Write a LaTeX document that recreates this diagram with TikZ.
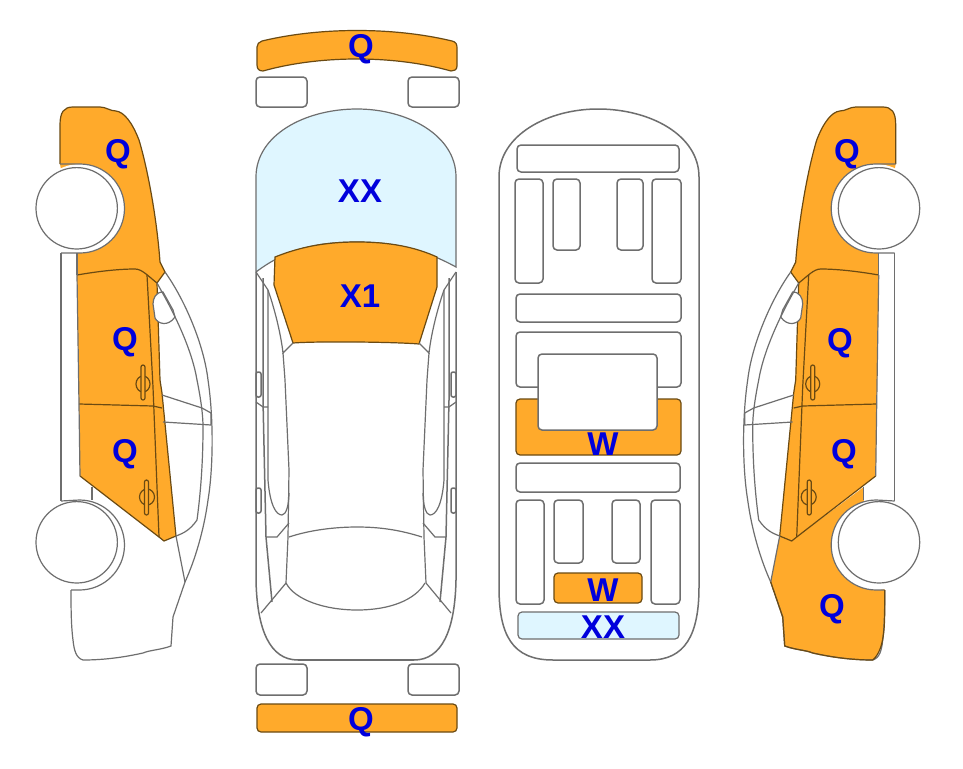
\documentclass[tikz,border=0pt]{standalone}
\usepackage{fontspec}
\setmainfont{Liberation Sans}
\definecolor{linegray}{HTML}{6E6E6E}
\definecolor{orangefill}{HTML}{FFAA2B}
\definecolor{orangeline}{HTML}{6B4A12}
\definecolor{glassblue}{HTML}{DFF6FF}
\definecolor{labelblue}{HTML}{0000DC}
\tikzset{
  ln/.style={draw=linegray,line width=1.2pt},
  lnthick/.style={draw=linegray,line width=1.5pt},
  orln/.style={draw=orangeline,line width=1.2pt},
  orpart/.style={fill=orangefill,draw=orangeline,line width=1.2pt},
  glass/.style={fill=glassblue,draw=linegray,line width=1.2pt},
  lab/.style={text=labelblue,anchor=base,inner sep=0pt,font=\bfseries\fontsize{33}{36}\selectfont},
  panel/.style={lnthick,rounded corners=4pt},
}
\newcommand{\sidecar}{%
  % orange front wing + doors
  \fill[orangefill] (60,164) -- (60,125) .. controls (60,112) and (64,107) .. (73,107)
     -- (100,107) .. controls (106,107) and (110,111) .. (116,111)
     .. controls (124,112) and (132,122) .. (139,140)
     .. controls (148,170) and (157,220) .. (160,262) -- (165,272) -- (157,283)
     -- (160,380) -- (162,393) -- (176,536) -- (164,541) -- (159,537) -- (80,476) -- (79,404) -- (77,275) -- (77,250) -- cycle;
  % wing edge
  \draw[orln] (60,164) -- (60,125) .. controls (60,112) and (64,107) .. (73,107)
     -- (100,107) .. controls (106,107) and (110,111) .. (116,111)
     .. controls (124,112) and (132,122) .. (139,140)
     .. controls (148,170) and (157,220) .. (160,262) -- (165,272) -- (157,283);
  % door outline
  \draw[orln] (77,275) .. controls (100,271) and (120,269) .. (135,269) .. controls (142,269) and (148,276) .. (157,283);
  \draw[orln] (147,275) -- (153,387) -- (159,537);
  \draw[orln] (79,404) -- (153,406) -- (162,408);
  \draw[orln] (80,476) -- (159,537) -- (164,541) -- (176,536);
  \draw[orln] (157,283) -- (160,380) -- (162,393) -- (176,536);
  \draw[ln] (77,275) -- (79,404) -- (80,476);
  \draw[ln] (77,253) -- (77,275);
  % door handles
  \draw[orln] (143,384) ellipse (7 and 8);
  \draw[orln,rounded corners=2pt,fill=orangefill] (141,365) rectangle (145,400);
  \draw[orln] (147,497) ellipse (7.5 and 8);
  \draw[orln,rounded corners=2pt,fill=orangefill] (144.5,480) rectangle (148.5,515);
  % window bump
  \draw[ln,fill=white] (163,292) .. controls (156,292) and (153,298) .. (153,304) -- (155,318)
     .. controls (158,324) and (168,327) .. (175,317) -- (173,310) -- cycle;
  % pillar and glass
  \draw[ln] (165,272) .. controls (185,300) and (204,345) .. (208,380)
     .. controls (214,420) and (213,470) .. (208,500) .. controls (204,530) and (195,560) .. (185,582);
  \draw[ln] (157,283) -- (162,292) .. controls (175,315) and (192,350) .. (197,380)
     .. controls (201,400) and (203,415) .. (203,427) .. controls (203,460) and (201,490) .. (197,520)
     .. controls (190,530) and (184,533) .. (176,536);
  \draw[ln] (162,395) -- (202,408) -- (211,413) -- (211,425) -- (163,422);
  \draw[ln] (176,536) -- (185,582);
  % body
  \draw[ln] (185,582) -- (173,617) -- (171,646) .. controls (160,650) and (150,650) .. (143,653)
     .. controls (125,657) and (105,660) .. (83,660) .. controls (76,658) and (74,650) .. (73,640)
     .. controls (71,625) and (71,605) .. (71,590);
  \draw[ln] (61,253) -- (61,501);
  \draw[ln] (92,487) -- (92,500);
  % wheels
  \fill[white] (80,208.5) circle (44.5);
  \fill[white] (79.5,545) circle (45);
  \draw[ln] (60,164) -- (80,164) arc (-90:90:44.5) -- (61,253);
  \draw[ln] (61,501) -- (79.5,500) arc (-90:90:45) -- (71,590);
  \draw[ln,fill=white] (76.7,208.3) circle (40.7);
  \draw[ln,fill=white] (76.7,542.3) circle (40.7);
}
\newcommand{\topside}{%
  \draw[ln] (256,272) -- (268,290) .. controls (275,310) and (281,335) .. (283,353) -- (293,343);
  \draw[ln] (283,353) -- (285,380) -- (289,470) -- (288,537) -- (286,583);
  \draw[lnthick] (256,272) -- (256,400) -- (256,580) .. controls (257,630) and (270,660) .. (298,660);
  \draw[lnthick] (263,278) -- (263,400) -- (266,537) -- (272,602);
  \draw[ln] (268,290) -- (268,480) .. controls (270,505) and (276,515) .. (282,515) .. controls (286,515) and (289,505) .. (289,493);
  \draw[lnthick,rounded corners=2pt] (256,372) rectangle (261,397);
  \draw[lnthick,rounded corners=2pt] (256,488) rectangle (261,513);
  \draw[ln] (256,402) -- (263,407) -- (268,407);
  \draw[ln] (266,537) -- (277,537) -- (289,523);
  \draw[ln] (286,583) -- (261,613);
}
\begin{document}
\begin{tikzpicture}[x=1pt,y=-1pt]
\useasboundingbox[fill=white] (0,0) rectangle (963,768);
% left car
\sidecar
\node[lab] (q1) at (118,162) {Q};
\node[lab] (q2) at (125,350) {Q};
\node[lab] (q3) at (125,462) {Q};
% top view
\draw[orpart] (262,41) .. controls (320,27) and (394,27) .. (452,41)
   .. controls (456,42) and (457,44) .. (457,48) -- (457,66) .. controls (457,70) and (454,71) .. (451,71)
   .. controls (394,55) and (320,55) .. (263,71) .. controls (259,71) and (257,69) .. (257,65)
   -- (257,47) .. controls (257,44) and (259,42) .. (262,41) -- cycle;
\draw[panel] (256,77) rectangle (307,107);
\draw[panel] (408,77) rectangle (459,107);
\draw[glass] (256,272) -- (256,177) .. controls (256,135) and (305,109) .. (357,109)
   .. controls (407,109) and (456,135) .. (456,177) -- (456,267)
   .. controls (425,250) and (395,242) .. (357,242) .. controls (315,242) and (285,250) .. (256,272);
\draw[orpart] (275,257) .. controls (300,247) and (325,242) .. (357,242)
   .. controls (390,242) and (415,247) .. (437,257) -- (437,287) -- (419,344)
   .. controls (395,342) and (320,341) .. (293,343) -- (274,285) -- cycle;
\topside
\begin{scope}[xshift=712pt,xscale=-1]\topside\end{scope}
\draw[ln] (289,537) .. controls (310,530) and (335,527) .. (357,527) .. controls (380,527) and (400,530) .. (422,537);
\draw[ln] (286,583) .. controls (295,600) and (325,610) .. (357,610) .. controls (390,610) and (415,600) .. (425,583);
\draw[lnthick] (298,660) -- (414,660);
\draw[panel] (256,664) rectangle (307,695);
\draw[panel] (408,664) rectangle (459,695);
\draw[orpart,rounded corners=4pt] (257,704) rectangle (457,732);
\node[lab] (q4) at (361,57) {Q};
\node[lab] (xx1) at (360,202) {XX};
\node[lab] (x1) at (360,307) {X1};
\node[lab] (q5) at (361,730) {Q};
% bottom view
\draw[lnthick] (499,177) .. controls (499,135) and (548,109) .. (598,109)
   .. controls (650,109) and (699,135) .. (699,177) -- (699,587)
   .. controls (699,635) and (685,660) .. (650,660) -- (553,660)
   .. controls (512,660) and (499,635) .. (499,587) -- cycle;
\draw[panel] (517,145) rectangle (679,172);
\draw[panel] (515,179) rectangle (543,283);
\draw[panel] (553,179) rectangle (580,250);
\draw[panel] (617,179) rectangle (643,250);
\draw[panel] (652,179) rectangle (681,283);
\draw[panel] (516,294) rectangle (681,322);
\draw[panel] (516,332) rectangle (681,387);
\draw[orpart,rounded corners=4pt] (516,399) rectangle (681,455);
\draw[panel,fill=white] (538,354) rectangle (657,430);
\draw[panel] (516,463) rectangle (680,492);
\draw[panel] (516,500) rectangle (544,604);
\draw[panel] (554,500) rectangle (583,563);
\draw[panel] (612,500) rectangle (640,563);
\draw[panel] (651,500) rectangle (680,604);
\draw[orpart,rounded corners=4pt] (554,573) rectangle (642,603);
\draw[glass,rounded corners=4pt] (518,612) rectangle (679,639);
\node[lab] (w1) at (603,455) {W};
\node[lab] (w2) at (603,601) {W};
\node[lab] (xx2) at (603,638) {XX};
% right car
\begin{scope}[xshift=955.7pt,xscale=-1]
  \fill[orangefill] (92,487) -- (92,500) -- (71,590) -- (71,605) .. controls (71,625) and (71,650) .. (83,660)
     .. controls (105,660) and (125,657) .. (143,653) .. controls (150,650) and (160,650) .. (171,646)
     -- (173,617) -- (185,582) -- (176,536) -- (164,541) -- (159,537) -- cycle;
  \sidecar
  \draw[orln] (71,590) -- (71,605) .. controls (71,625) and (71,650) .. (83,660)
     .. controls (105,660) and (125,657) .. (143,653) .. controls (150,650) and (160,650) .. (171,646)
     -- (173,617) -- (185,582);
\end{scope}
\node[lab] (q6) at (847,162) {Q};
\node[lab] (q7) at (840,351) {Q};
\node[lab] (q8) at (844,462) {Q};
\node[lab] (q9) at (832,617) {Q};
\end{tikzpicture}
\end{document}
